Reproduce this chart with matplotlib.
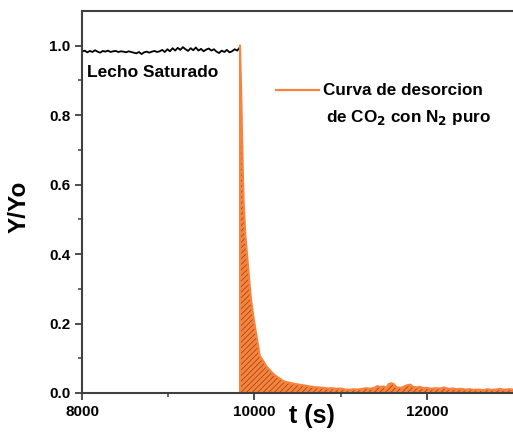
import matplotlib.pyplot as plt

plt.rcParams['font.family'] = ['Liberation Sans', 'DejaVu Sans']
plt.rcParams['font.weight'] = 'bold'
plt.rcParams['hatch.linewidth'] = 0.6

# saturated bed signal (black)
t_sat = [8000, 8030, 8060, 8090, 8120, 8150, 8180, 8210, 8240, 8270,
         8300, 8330, 8360, 8390, 8420, 8450, 8480, 8510, 8540, 8570,
         8600, 8630, 8660, 8690, 8720, 8750, 8780, 8810, 8840, 8870,
         8900, 8930, 8960, 8990, 9020, 9050, 9080, 9110, 9140, 9170,
         9200, 9230, 9260, 9290, 9320, 9350, 9380, 9410, 9440, 9470,
         9500, 9530, 9560, 9590, 9620, 9650, 9680, 9710, 9740, 9770,
         9800, 9830]
y_sat = [0.983, 0.986, 0.981, 0.985, 0.982, 0.987, 0.983, 0.980, 0.985, 0.983,
         0.986, 0.982, 0.984, 0.985, 0.982, 0.984, 0.983, 0.981, 0.984, 0.982,
         0.980, 0.978, 0.982, 0.976, 0.981, 0.983, 0.980, 0.983, 0.985, 0.982,
         0.984, 0.988, 0.982, 0.990, 0.984, 0.993, 0.986, 0.994, 0.988, 0.996,
         0.990, 0.985, 0.993, 0.987, 0.995, 0.986, 0.991, 0.984, 0.989, 0.992,
         0.986, 0.990, 0.983, 0.979, 0.986, 0.982, 0.988, 0.981, 0.984, 0.990,
         0.986, 0.995]

# desorption curve (orange)
t_des = [9832, 9836, 9845, 9855, 9865, 9875, 9893, 9910, 9928, 9945,
         9960, 9985, 10007, 10030, 10050, 10060, 10080, 10100, 10135, 10170,
         10200, 10232, 10260, 10290, 10320, 10347, 10400, 10450, 10500, 10545,
         10600, 10640, 10700, 10740, 10800, 10850, 10900, 10950, 11000, 11050,
         11100, 11150, 11200, 11250, 11300, 11350, 11400, 11430, 11460, 11500,
         11530, 11560, 11590, 11620, 11650, 11700, 11740, 11780, 11810, 11840,
         11880, 11920, 11960, 12000, 12050, 12100, 12150, 12200, 12250, 12300,
         12350, 12400, 12450, 12500, 12550, 12600, 12650, 12700, 12750, 12800,
         12850, 12900, 12950, 13000]
y_des = [1.000, 0.960, 0.880, 0.760, 0.640, 0.550, 0.460, 0.410, 0.360, 0.310,
         0.270, 0.225, 0.190, 0.155, 0.125, 0.108, 0.100, 0.093, 0.078, 0.068,
         0.060, 0.052, 0.047, 0.042, 0.037, 0.033, 0.030, 0.027, 0.025, 0.023,
         0.021, 0.019, 0.017, 0.016, 0.015, 0.013, 0.014, 0.012, 0.013, 0.010,
         0.009, 0.011, 0.010, 0.012, 0.014, 0.012, 0.016, 0.020, 0.017, 0.019,
         0.015, 0.026, 0.028, 0.025, 0.016, 0.015, 0.019, 0.023, 0.024, 0.018,
         0.016, 0.018, 0.014, 0.015, 0.012, 0.014, 0.013, 0.016, 0.012, 0.013,
         0.011, 0.012, 0.010, 0.011, 0.009, 0.010, 0.008, 0.011, 0.009, 0.010,
         0.012, 0.009, 0.011, 0.010]

orange = '#F7843E'

fig = plt.figure(figsize=(5.13, 4.32), dpi=100)
ax = fig.add_axes([0.16, 0.0903, 0.84, 0.8842])

ax.plot(t_sat, y_sat, color='black', lw=1.3)
ax.fill_between(t_des, y_des, 0, facecolor=orange, edgecolor='#A04818',
                hatch='//////', linewidth=0)
ax.plot(t_des, y_des, color=orange, lw=1.5)
ax.plot([t_des[0], t_des[0]], [0, y_des[0]], color=orange, lw=1.5)

ax.set_xlim(8000, 13000)
ax.set_ylim(0, 1.1)
ax.set_xticks([8000, 10000, 12000])
ax.set_xticks([9000, 11000], minor=True)
ax.set_yticks([0.0, 0.2, 0.4, 0.6, 0.8, 1.0])
ax.set_yticks([0.1, 0.3, 0.5, 0.7, 0.9], minor=True)
ax.tick_params(which='major', direction='out', length=5, width=1.3,
               color='#404040', labelsize=11)
ax.tick_params(which='minor', direction='out', length=3, width=1.1,
               color='#404040')
for lbl in ax.get_xticklabels() + ax.get_yticklabels():
    lbl.set_fontweight('bold')

for s in ['left', 'bottom', 'top']:
    ax.spines[s].set_color('#404040')
    ax.spines[s].set_linewidth(1.5)
ax.spines['right'].set_visible(False)

ax.set_xlabel('t (s)', fontsize=18, fontweight='bold')
ax.xaxis.set_label_coords(0.534, -0.028)
ax.set_ylabel('Y/Yo', fontsize=17.5, fontweight='bold')
ax.yaxis.set_label_coords(-0.12, 0.487)

ax.text(0.012, 0.84, 'Lecho Saturado', transform=ax.transAxes,
        fontsize=12.5, fontweight='bold', va='center')

# legend drawn by hand
ax.plot([0.45, 0.55], [0.793, 0.793], transform=ax.transAxes, color=orange, lw=1.6)
ax.text(0.56, 0.793, 'Curva de desorcion', transform=ax.transAxes,
        fontsize=12.3, fontweight='bold', va='center')
ax.text(0.566, 0.72, 'de CO$_\\mathbf{2}$ con N$_\\mathbf{2}$ puro',
        transform=ax.transAxes, fontsize=12.3, fontweight='bold', va='center')

fig.savefig('out.png', dpi=100)
